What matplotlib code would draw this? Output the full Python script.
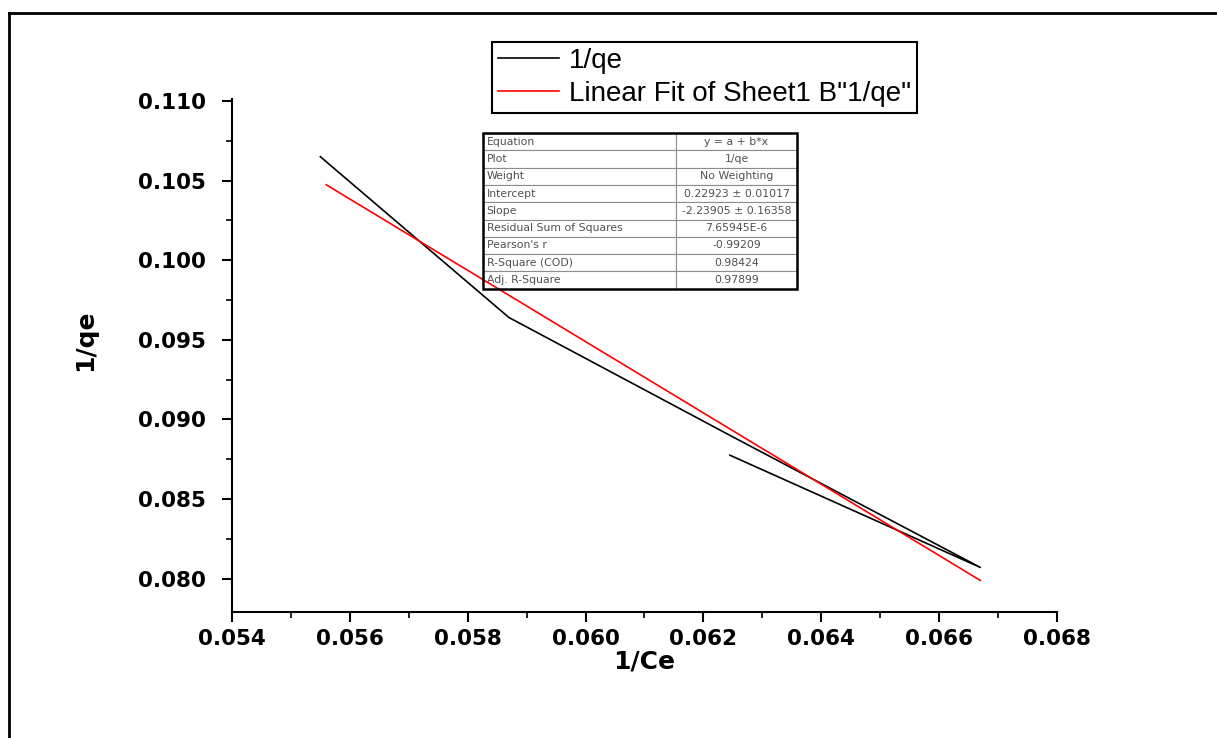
import matplotlib.pyplot as plt
from matplotlib.lines import Line2D
from matplotlib.ticker import MultipleLocator, FormatStrFormatter

# data
inv_ce = [0.0555, 0.0587, 0.0625, 0.0667, 0.06245]
inv_qe = [0.1065, 0.0964, 0.0889, 0.0807, 0.08775]

# fit results (from the Origin table)
intercept = 0.22923
slope = -2.23905
fit_x = [0.0556, 0.0667]

table_rows = [
    ("Equation", "y = a + b*x"),
    ("Plot", "1/qe"),
    ("Weight", "No Weighting"),
    ("Intercept", "0.22923 \u00b1 0.01017"),
    ("Slope", "-2.23905 \u00b1 0.16358"),
    ("Residual Sum of Squares", "7.65945E-6"),
    ("Pearson's r", "-0.99209"),
    ("R-Square (COD)", "0.98424"),
    ("Adj. R-Square", "0.97899"),
]

fig = plt.figure(figsize=(12.17, 7.38), dpi=100)
ax = fig.add_axes([0.1906, 0.1707, 0.6779, 0.6946])

ax.plot(inv_ce, inv_qe, color='black', lw=1.2, label='1/qe')
fit_y = [intercept + slope * x for x in fit_x]
ax.plot(fit_x, fit_y, color='red', lw=1.2, label='Linear Fit of Sheet1 B"1/qe"')

ax.set_xlim(0.054, 0.068)
ax.set_ylim(0.0779, 0.1101)

for side in ['top', 'right']:
    ax.spines[side].set_visible(False)
for side in ['left', 'bottom']:
    ax.spines[side].set_linewidth(1.5)

ax.xaxis.set_major_locator(MultipleLocator(0.002))
ax.xaxis.set_minor_locator(MultipleLocator(0.001))
ax.yaxis.set_major_locator(MultipleLocator(0.005))
ax.yaxis.set_minor_locator(MultipleLocator(0.0025))
ax.xaxis.set_major_formatter(FormatStrFormatter('%.3f'))
ax.yaxis.set_major_formatter(FormatStrFormatter('%.3f'))
ax.tick_params(which='major', direction='out', length=7, width=1.5)
ax.tick_params(axis='x', which='major', pad=5)
ax.tick_params(axis='y', which='major', pad=12)
ax.tick_params(which='minor', direction='out', length=4, width=1.2)
for lab in ax.get_xticklabels() + ax.get_yticklabels():
    lab.set_fontfamily('DejaVu Sans')
    lab.set_fontweight('bold')
    lab.set_fontsize(15.5)

ax.set_xlabel('1/Ce', fontsize=18, fontweight='bold', family='DejaVu Sans')
ax.set_ylabel('1/qe', fontsize=18, fontweight='bold', family='DejaVu Sans')
ax.xaxis.set_label_coords(0.5, -0.073)
ax.yaxis.set_label_coords(-0.164, 0.53)

leg = fig.legend(loc='upper left', bbox_to_anchor=(492 / 1217, 1 - 42 / 738),
                 fancybox=False, edgecolor='black', framealpha=1,
                 prop={'family': 'Liberation Sans', 'size': 20},
                 handlelength=2.2, handletextpad=0.35, borderpad=0.22,
                 labelspacing=0.25, borderaxespad=0)
leg.get_frame().set_linewidth(1.5)

# fit statistics table
tbl = ax.table(cellText=[list(r) for r in table_rows],
               bbox=[0.304, 0.631, 0.381, 0.303], cellLoc='center')
tbl.auto_set_font_size(False)
tbl.set_fontsize(7.8)
for (r, c), cell in tbl.get_celld().items():
    cell.set_edgecolor('#8c8c8c')
    cell.set_linewidth(0.8)
    cell.get_text().set_color('#505050')
    cell.get_text().set_family('DejaVu Sans')
    if c == 0:
        cell.get_text().set_ha('left')
        cell.PAD = 0.02
        cell.set_width(0.234)
    else:
        cell.set_width(0.147)
ax.add_patch(plt.Rectangle((0.304, 0.631), 0.381, 0.303, transform=ax.transAxes,
                           fill=False, edgecolor='black', lw=1.8, zorder=10))

# outer page frame (top and left edges visible)
fig.add_artist(Line2D([9 / 1217, 1], [1 - 13 / 738, 1 - 13 / 738], color='black', lw=2))
fig.add_artist(Line2D([9 / 1217, 9 / 1217], [0, 1 - 13 / 738], color='black', lw=2))

fig.savefig('out.png', dpi=100)
